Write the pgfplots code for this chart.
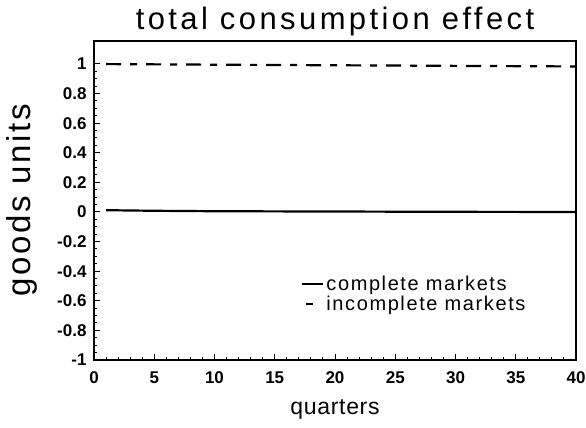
\documentclass[border=0pt]{standalone}
\usepackage{fontspec}
\setmainfont{Liberation Sans}
\usepackage{pgfplots}
\pgfplotsset{compat=1.18}

\newcommand{\tfont}[1]{\addfontfeatures{LetterSpace=#1}}

\begin{document}
\begin{tikzpicture}
\useasboundingbox (-94bp,-68bp) rectangle (492bp,360bp);
\begin{axis}[
    scale only axis,
    width=482bp, height=319bp,
    at={(0,0)}, anchor=south west,
    xmin=0, xmax=40,
    ymin=-1, ymax=1.155,
    xtick={0,5,...,40},
    xticklabels={0,5,10,15,20,25,30,35,40},
    ytick={-1,-0.8,-0.6,-0.4,-0.2,0,0.2,0.4,0.6,0.8,1},
    yticklabels={-1,-0.8,-0.6,-0.4,-0.2,0,0.2,0.4,0.6,0.8,1},
    minor x tick num=4,
    minor y tick num=3,
    tick align=inside,
    xtick pos=bottom, ytick pos=left,
    major tick length=6bp, minor tick length=3bp,
    every tick/.style={black, line width=1bp},
    axis line style={line width=1.6bp},
    tick label style={font=\fontsize{17bp}{19bp}\selectfont\bfseries},
    xticklabel style={yshift=-8bp},
    yticklabel style={xshift=-4bp},
    title={\fontsize{31bp}{34bp}\selectfont\tfont{11}total consumption effect},
    title style={yshift=-4bp},
    xlabel={\fontsize{23bp}{26bp}\selectfont\tfont{3}quarters},
    ylabel={\fontsize{33bp}{36bp}\selectfont\tfont{8}goods units},
    xlabel style={yshift=-9bp},
    ylabel style={yshift=13bp},
    legend style={draw=none, fill=none, at={(rel axis cs:0.43,0.27)}, anchor=north west,
        font=\fontsize{20bp}{22bp}\selectfont\tfont{8}, row sep=0bp, inner sep=0pt,
        /tikz/every odd column/.style={column sep=0pt}},
    legend cell align=left,
]
\addplot[black, line width=2.2bp,
    legend image code/.code={\draw[black, line width=2bp] (0bp,0bp) -- (21bp,0bp);}]
  coordinates {(1,0.012)(5,0.008)(10,0.005)(20,0.003)(30,0.001)(40,0.0)};
\addlegendentry{complete markets}
\addplot[black, line width=2.2bp, dash pattern=on 15bp off 9bp on 7bp off 9bp,
    legend image code/.code={\draw[black, line width=2bp] (4bp,0bp) -- (11bp,0bp);}]
  coordinates {(1,0.999)(10,0.995)(20,0.991)(30,0.987)(40,0.983)};
\addlegendentry{incomplete markets}
\end{axis}
\end{tikzpicture}
\end{document}
